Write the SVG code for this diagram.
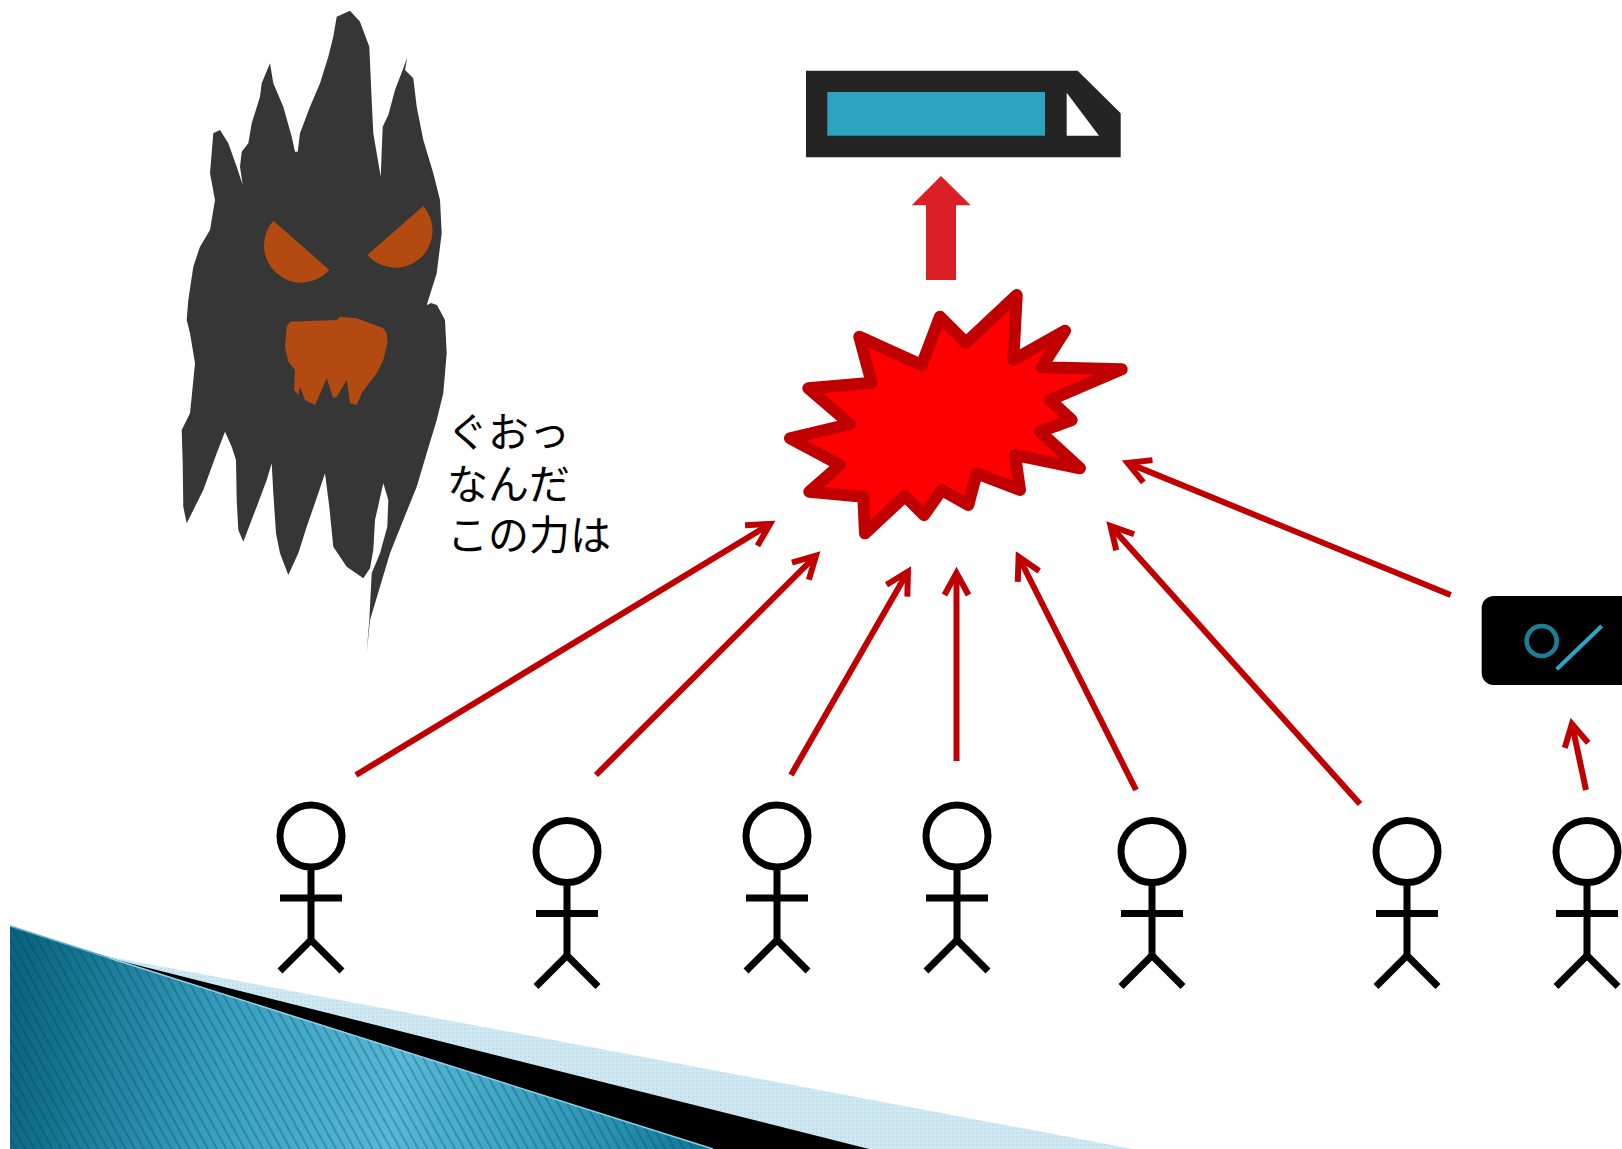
<svg xmlns="http://www.w3.org/2000/svg" xmlns:xlink="http://www.w3.org/1999/xlink" width="1622" height="1149" viewBox="0 0 1622 1149">
  <style>
    .person { fill: none; stroke: #000; stroke-width: 7; }
    .link { fill: none; stroke: #C00000; stroke-width: 6; marker-end: url(#head); }
    .label { font-family: "Noto Sans CJK JP", "Noto Sans", sans-serif; font-size: 41px; fill: #000; }
    .ghost-body { fill: #363636; }
    .ghost-face { fill: #B34A11; }
  </style>
  <defs>
    <!-- open chevron arrowhead -->
    <marker id="head" markerUnits="userSpaceOnUse" markerWidth="60" markerHeight="60" viewBox="-30 -30 60 60" refX="0" refY="0" orient="auto" overflow="visible">
      <path d="M-22,-12 L0,0 L-22,12" fill="none" stroke="#C00000" stroke-width="6" stroke-linejoin="miter"/>
    </marker>
    <!-- stick figure, origin at head centre -->
    <g id="stickman" class="person">
      <circle cx="0" cy="0" r="31"/>
      <line x1="0" y1="31" x2="0" y2="104"/>
      <line x1="-31" y1="62" x2="31" y2="62"/>
      <polyline points="-31,135 0,104 31,135"/>
    </g>
    <linearGradient id="tealGrad" gradientUnits="userSpaceOnUse" x1="10" y1="1040" x2="713" y2="1149">
      <stop offset="0" stop-color="#0A6580"/>
      <stop offset="0.3" stop-color="#3A9FBF"/>
      <stop offset="0.55" stop-color="#58B8D6"/>
      <stop offset="0.85" stop-color="#2A93B2"/>
      <stop offset="1" stop-color="#0C7492"/>
    </linearGradient>
    <pattern id="stripes" patternUnits="userSpaceOnUse" width="8" height="100" patternTransform="rotate(-29)">
      <line x1="1" y1="0" x2="1" y2="100" stroke="#003C50" stroke-opacity="0.35" stroke-width="1.6"/>
    </pattern>
    <pattern id="dots" patternUnits="userSpaceOnUse" width="4" height="4">
      <rect width="4" height="4" fill="#CFE8F1"/>
      <circle cx="1" cy="1" r="0.8" fill="#A9D5E4"/>
    </pattern>
  </defs>

  <rect width="1622" height="1149" fill="#fff"/>

  <!-- folded corner decoration, bottom left -->
  <g id="corner-fold">
    <polygon points="100,955 1133,1149 700,1149" fill="url(#dots)"/>
    <polygon points="109,958 869,1149 713,1149" fill="#000"/>
    <polygon points="10,926 713,1149 10,1149" fill="url(#tealGrad)"/>
    <polygon points="10,926 713,1149 10,1149" fill="url(#stripes)"/>
    <line x1="109" y1="958" x2="713" y2="1149" stroke="#8FD0E6" stroke-width="1.5"/>
    <line x1="10" y1="926" x2="109" y2="958" stroke="#5FB0CB" stroke-width="1.5"/>
  </g>

  <!-- shadow monster -->
  <g id="ghost">
    <path class="ghost-body" d="M336.7,16.7 L350,10.7 L360,21.7 L369.3,46.7 L371.7,100 L373.3,133.3 L380.7,176.7 L382.7,126.7 L388.3,115 L395,90 L403.3,68.3 L407.3,57.3 L405,70 L413.3,78.3 L416.7,106.7 L423.3,140 L433.3,173.3 L440,200 L441.7,233.3 L436.7,273.3 L428.3,300 L422,321 L425,306 L431,303 L437,305 L445,320 L446.7,353.3 L443.3,393.3 L436.7,420 L426.7,453.3 L416.7,486.7 L403.3,520 L390,553.3 L380,586.7 L370,620 L366.7,653.3 L369.3,620 L371.7,573.3 L380,553.3 L387.3,526.7 L388.3,500 L383.3,483.3 L375,520 L373.3,550 L370,568.3 L363.3,578.3 L346.7,566.7 L333.3,546.7 L329.3,506.7 L325,473.3 L318.3,493.3 L306.7,526.7 L298.3,553.3 L288.3,575 L280,553.3 L276,533.3 L273.3,493.3 L271.7,463.3 L266.7,480 L256.7,506.7 L243.3,541.7 L238.3,530 L236.7,500 L236,460 L231.7,446.7 L225,431.7 L216.7,453.3 L203.3,490 L186.7,523.3 L183.3,506.7 L182.7,463.3 L181.7,430 L190,413.3 L191.7,396.7 L195,363.3 L190,333.3 L186.7,320 L188.3,300 L193.3,266.7 L200,246.7 L210,230 L215,200 L210,173.3 L213.3,133.3 L220,130 L228.3,143.3 L236.7,166.7 L242.7,185 L240,166.7 L241.7,151.7 L248.3,143.3 L251.7,123.3 L260,96.7 L261.7,83.3 L270,63.3 L273.3,83.3 L283.3,106.7 L291.7,136.7 L295,151.7 L297.7,151.7 L300,133.3 L310,106.7 L320,83.3 L328.3,56.7 L333.3,36.7 Z"/>
    <path class="ghost-face" d="M273.3,220.7 L329.3,270 A37.3,37.3 0 0 1 273.3,220.7 Z"/>
    <path class="ghost-face" d="M423.3,206 L367.3,255 A37.2,37.2 0 0 0 423.3,206 Z"/>
    <path class="ghost-face" d="M290,321.7 L336.7,320 L340,316.7 L356.7,318.3 L383,328 L386.7,333 L387.5,343.3 L383.3,360 L376.7,373.3 L370,381.7 L361.7,393.3 L356.7,405 L350,403.3 L346.7,380 L336.7,396.7 L333.3,398.3 L326.7,378.3 L321.7,390 L315,405 L305,400 L300,386.7 L298.3,395 L294,390 L295,370 L288.3,361.7 L285,346.7 L286.7,326.7 Z"/>
  </g>

  <g id="speech">
    <text class="label"><tspan x="447" y="447">ぐおっ</tspan><tspan x="447" y="498.5">なんだ</tspan><tspan x="447" y="550">この力は</tspan></text>
  </g>

  <!-- battery-like bar at the top -->
  <g id="gauge">
    <polygon points="806,70.7 1077.7,70.7 1120.7,113.3 1120.7,157.3 806,157.3" fill="#242424"/>
    <rect x="827.3" y="92" width="217.7" height="43.7" fill="#2CA3BF"/>
    <polygon points="1066.7,92.7 1066.7,135.7 1099,135.7" fill="#fff"/>
  </g>

  <g id="boost-arrow">
    <polygon points="941,176 970.7,205.3 956,205.3 956,280 926,280 926,205.3 911.7,205.3" fill="#DA1F27"/>
  </g>

  <g id="burst">
    <polygon points="859.3,336.7 921.7,365 940,316.7 966,342.7 1016.7,295 1013.3,360 1065,330.7 1041.7,367.3 1121.7,369.3 1050,400 1071.7,420 1040,431.7 1080,468.3 1015,455 1020,490 976.7,473.3 968.3,505 941.7,490 924,515 905,496 865,533.3 863.3,496.7 809.3,491.7 840,465 790,438.3 850,424 808.3,388.3 871.7,382.7" fill="#FF0000" stroke="#C00000" stroke-width="12" stroke-linejoin="round"/>
  </g>

  <!-- switch box on the right -->
  <g id="switch">
    <rect x="1481.7" y="596" width="170" height="89" rx="12" fill="#000"/>
    <circle cx="1541.7" cy="641" r="15" fill="none" stroke="#1B7D96" stroke-width="4.7"/>
    <line x1="1556.7" y1="669.3" x2="1601.7" y2="626" stroke="#2AA5C5" stroke-width="4"/>
  </g>

  <g id="person-1" transform="translate(311,836)"><use xlink:href="#stickman" href="#stickman"/></g>
  <g id="person-2" transform="translate(567,851.5)"><use xlink:href="#stickman" href="#stickman"/></g>
  <g id="person-3" transform="translate(777,836)"><use xlink:href="#stickman" href="#stickman"/></g>
  <g id="person-4" transform="translate(957,836)"><use xlink:href="#stickman" href="#stickman"/></g>
  <g id="person-5" transform="translate(1152,851.5)"><use xlink:href="#stickman" href="#stickman"/></g>
  <g id="person-6" transform="translate(1407,851.5)"><use xlink:href="#stickman" href="#stickman"/></g>
  <g id="person-7" transform="translate(1587,851.5)"><use xlink:href="#stickman" href="#stickman"/></g>

  <g id="connectors">
    <line class="link" x1="356" y1="775" x2="770.1" y2="524"/>
    <line class="link" x1="596" y1="775" x2="816" y2="555.7"/>
    <line class="link" x1="791" y1="775" x2="907.9" y2="571.6"/>
    <line class="link" x1="956.5" y1="761" x2="956.5" y2="573"/>
    <line class="link" x1="1136" y1="790" x2="1018.6" y2="556.8"/>
    <line class="link" x1="1360" y1="804" x2="1110.5" y2="525.9"/>
    <line class="link" x1="1450.7" y1="595" x2="1127.6" y2="462.9"/>
    <line class="link" x1="1586" y1="790" x2="1571.9" y2="723.9"/>
  </g>
</svg>
